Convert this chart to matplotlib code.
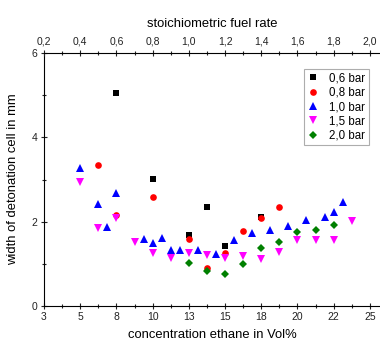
import numpy as np
import matplotlib
matplotlib.use("Agg")
import matplotlib.pyplot as plt
from matplotlib.ticker import MultipleLocator

plt.rcParams['font.family'] = ['Liberation Sans', 'DejaVu Sans']

# x values given as stoichiometric fuel rate (top axis), y = cell width in mm
fuel_06 = [0.6, 0.8, 1.0, 1.1, 1.2, 1.4]
width_06 = [5.06, 3.01, 1.68, 2.34, 1.42, 2.12]

fuel_08 = [0.5, 0.6, 0.8, 1.0, 1.1, 1.2, 1.3, 1.4, 1.5]
width_08 = [3.35, 2.16, 2.58, 1.59, 0.91, 1.26, 1.79, 2.08, 2.34]

fuel_10 = [0.4, 0.5, 0.55, 0.6, 0.75, 0.8, 0.85, 0.9, 0.95, 1.05,
           1.15, 1.25, 1.35, 1.45, 1.55, 1.65, 1.75, 1.8, 1.85]
width_10 = [3.28, 2.43, 1.88, 2.69, 1.59, 1.50, 1.62, 1.33, 1.33, 1.33,
            1.23, 1.56, 1.72, 1.80, 1.90, 2.05, 2.12, 2.22, 2.47]

fuel_15 = [0.4, 0.5, 0.6, 0.7, 0.8, 0.9, 1.0, 1.1, 1.2, 1.3,
           1.4, 1.5, 1.6, 1.7, 1.8, 1.9]
width_15 = [2.95, 1.86, 2.08, 1.52, 1.25, 1.13, 1.26, 1.20, 1.14, 1.19,
            1.11, 1.29, 1.56, 1.56, 1.56, 2.02]

fuel_20 = [1.0, 1.1, 1.2, 1.3, 1.4, 1.5, 1.6, 1.7, 1.8]
width_20 = [1.01, 0.83, 0.75, 1.00, 1.37, 1.52, 1.76, 1.80, 1.92]

top_ticks = [0.2, 0.4, 0.6, 0.8, 1.0, 1.2, 1.4, 1.6, 1.8, 2.0]
top_labels = ['0,2', '0,4', '0,6', '0,8', '1,0', '1,2', '1,4', '1,6', '1,8', '2,0']
bottom_labels = ['3', '5', '8', '10', '13', '15', '18', '20', '22', '25']

fig = plt.figure(figsize=(3.8, 3.45), dpi=100)
ax = fig.add_axes([44 / 380, 39 / 345, 336 / 380, 253 / 345])

series = [
    (fuel_06, width_06, 's', 'black', '0,6 bar', 4.0),
    (fuel_08, width_08, 'o', 'red', '0,8 bar', 4.8),
    (fuel_10, width_10, '^', 'blue', '1,0 bar', 5.2),
    (fuel_15, width_15, 'v', 'magenta', '1,5 bar', 5.2),
    (fuel_20, width_20, 'D', 'green', '2,0 bar', 4.2),
]
for x, y, m, c, lab, ms in series:
    ax.plot(x, y, linestyle='none', marker=m, color=c, markersize=ms,
            markeredgewidth=0, label=lab)

ax.set_xlim(0.2, 2.056)
ax.set_ylim(0, 6)

ax.set_xticks(top_ticks)
ax.set_xticklabels(bottom_labels)
ax.xaxis.set_minor_locator(MultipleLocator(0.1))
ax.set_yticks([0, 2, 4, 6])
ax.yaxis.set_minor_locator(MultipleLocator(1))
ax.tick_params(which='both', direction='inout', labelsize=7.5, width=0.8,
               colors='#222222', pad=2)
ax.tick_params(which='major', length=5)
ax.tick_params(which='minor', length=3)
ax.spines['right'].set_visible(False)
ax.spines['top'].set_visible(False)

ax.set_xlabel('concentration ethane in Vol%', fontsize=9.4, labelpad=5)
ax.set_ylabel('width of detonation cell in mm', fontsize=9.4, labelpad=9)

top = ax.twiny()
top.set_xlim(ax.get_xlim())
top.set_xticks(top_ticks)
top.set_xticklabels(top_labels)
top.xaxis.set_minor_locator(MultipleLocator(0.1))
top.tick_params(which='both', direction='inout', labelsize=7.5, width=0.8,
                colors='#222222', pad=2)
top.tick_params(which='major', length=5)
top.tick_params(which='minor', length=3)
top.spines['right'].set_visible(False)
top.spines['left'].set_visible(False)
top.spines['bottom'].set_visible(False)
top.set_xlabel('stoichiometric fuel rate', fontsize=9.4, labelpad=7)

leg = ax.legend(loc='upper right', bbox_to_anchor=(325 / 336, 1 - 16 / 253),
                fontsize=8.3, frameon=True, fancybox=False, handlelength=1.0,
                handletextpad=0.9, borderpad=0.3, labelspacing=0.2,
                borderaxespad=0)
leg.get_frame().set_edgecolor('#999999')
leg.get_frame().set_linewidth(0.8)

fig.savefig('out.png', dpi=100)
